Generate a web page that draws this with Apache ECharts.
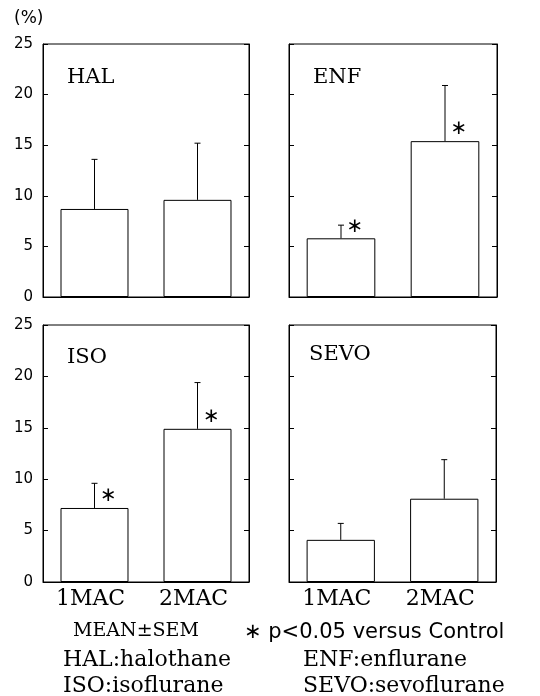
<!DOCTYPE html>
<html>
<head>
<meta charset="utf-8">
<script src="https://cdn.jsdelivr.net/npm/echarts@6/dist/echarts.min.js"></script>
<style>
  html, body { margin: 0; padding: 0; background: #fff; }
  #main { width: 540px; height: 696px; }
</style>
</head>
<body>
<div id="main"></div>
<script>
// data
const categories = ['1MAC', '2MAC'];
const panelNames = ['HAL', 'ENF', 'ISO', 'SEVO'];
const halMean = [8.7, 9.6];
const halSem = [4.9, 5.6];
const enfMean = [5.8, 15.4];
const enfSem = [1.3, 5.5];
const isoMean = [7.2, 14.9];
const isoSem = [2.4, 4.5];
const sevoMean = [4.1, 8.1];
const sevoSem = [1.6, 3.8];
// 1 = p<0.05 versus Control
const halSig = [0, 0];
const enfSig = [1, 1];
const isoSig = [1, 1];
const sevoSig = [0, 0];
const yMin = 0;
const yMax = 25;
const yStep = 5;

const means = [halMean, enfMean, isoMean, sevoMean];
const sems = [halSem, enfSem, isoSem, sevoSem];
const sigs = [halSig, enfSig, isoSig, sevoSig];

const serif = 'DejaVu Serif';
const sans = 'DejaVu Sans';

// panel boxes
const grids = [
  { left: 43, top: 44, width: 206, height: 253 },
  { left: 289, top: 44, width: 208, height: 253 },
  { left: 43, top: 325, width: 206, height: 257 },
  { left: 289, top: 325, width: 207, height: 257 }
];
const titlePos = [[67, 80], [313, 80], [67, 360], [309, 357]];

let chart = echarts.init(document.getElementById('main'), null, { renderer: 'canvas' });

function errRender(params, api) {
  const x = api.value(0);
  const m = api.value(1);
  const s = api.value(2);
  const sig = api.value(3);
  const base = api.coord([x, m]);
  const top = api.coord([x, m + s]);
  const lineStyle = { stroke: '#000', lineWidth: 1 };
  const children = [
    { type: 'line', shape: { x1: base[0], y1: base[1], x2: top[0], y2: top[1] }, style: lineStyle },
    { type: 'line', shape: { x1: top[0] - 3, y1: top[1], x2: top[0] + 3, y2: top[1] }, style: lineStyle }
  ];
  if (sig) {
    children.push({
      type: 'text',
      style: {
        text: '∗', x: base[0] + 14, y: base[1] - 12,
        align: 'center', verticalAlign: 'middle',
        fontSize: 20, fontFamily: sans, fill: '#000'
      }
    });
  }
  return { type: 'group', children: children };
}

function getOption() {
  const grid = [], xAxis = [], yAxis = [], series = [], title = [];
  for (let i = 0; i < 4; i++) {
    const g = grids[i];
    grid.push({ left: g.left, top: g.top, width: g.width, height: g.height, show: true, borderColor: '#000', borderWidth: 1, backgroundColor: 'transparent' });
    xAxis.push({
      type: 'category', gridIndex: i, data: categories,
      axisLine: { lineStyle: { color: '#000', width: 1 } },
      axisTick: { show: false },
      axisLabel: { show: i >= 2, color: '#000', fontFamily: serif, fontSize: 22, margin: 6, padding: [0, 8, 0, 0] }
    });
    yAxis.push({
      type: 'value', gridIndex: i, min: yMin, max: yMax, interval: yStep, position: 'left',
      axisLine: { show: true, lineStyle: { color: '#000', width: 1 } },
      axisTick: { show: true, inside: true, length: 5, lineStyle: { color: '#000' } },
      splitLine: { show: false },
      axisLabel: { show: i % 2 === 0, color: '#000', fontFamily: sans, fontSize: 15, margin: 10 }
    });
    yAxis.push({
      type: 'value', gridIndex: i, min: yMin, max: yMax, interval: yStep, position: 'right',
      axisLine: { show: true, lineStyle: { color: '#000', width: 1 } },
      axisTick: { show: true, inside: true, length: 5, lineStyle: { color: '#000' } },
      splitLine: { show: false },
      axisLabel: { show: false }
    });
    series.push({
      type: 'bar', xAxisIndex: i, yAxisIndex: i * 2, data: means[i], barWidth: '66%',
      itemStyle: { color: '#fff', borderColor: '#000', borderWidth: 1 },
      silent: true, animation: false
    });
    series.push({
      type: 'custom', xAxisIndex: i, yAxisIndex: i * 2,
      data: means[i].map((m, k) => [k, m, sems[i][k], sigs[i][k]]),
      renderItem: errRender, silent: true, animation: false, z: 3
    });
    title.push({
      text: panelNames[i], left: titlePos[i][0], top: titlePos[i][1] - 13,
      padding: 0,
      textStyle: { fontFamily: serif, fontSize: 21, fontWeight: 'normal', color: '#000' }
    });
  }
  const txt = (x, y, text, font, size) => ({
    type: 'text', x: x, y: y,
    style: { text: text, fontSize: size, fontFamily: font, fill: '#000', verticalAlign: 'middle' }
  });
  return {
    animation: false,
    title: title,
    grid: grid,
    xAxis: xAxis,
    yAxis: yAxis,
    series: series,
    graphic: [
      txt(14, 19, '(%)', sans, 17),
      txt(73, 631, 'MEAN±SEM', serif, 19),
      txt(244, 633, '∗ p<0.05 versus Control', sans, 21),
      txt(63, 660, 'HAL:halothane', serif, 22),
      txt(303, 660, 'ENF:enflurane', serif, 22),
      txt(63, 686, 'ISO:isoflurane', serif, 22),
      txt(303, 686, 'SEVO:sevoflurane', serif, 22)
    ]
  };
}

chart.setOption(getOption());
</script>
</body>
</html>
